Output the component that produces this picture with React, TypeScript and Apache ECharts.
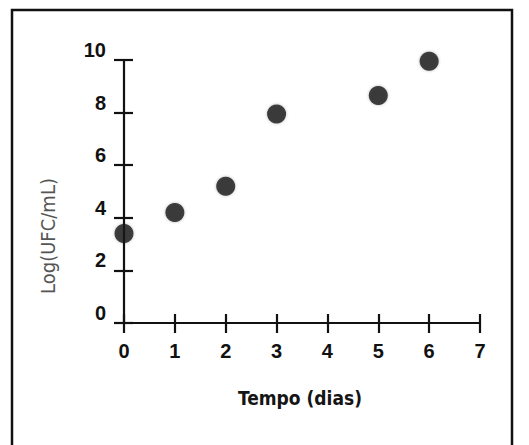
import React, { useEffect, useRef } from "react";
import * as echarts from "echarts";

const days = [0, 1, 2, 3, 5, 6];
const logUFC = [3.4, 4.2, 5.2, 7.95, 8.65, 9.95];
const xTicks = [0, 1, 2, 3, 4, 5, 6, 7];
const yTicks = [0, 2, 4, 6, 8, 10];
const xTitle = "Tempo (dias)";
const yTitle = "Log(UFC/mL)";

export default function App() {
  const ref = useRef<HTMLDivElement>(null);
  useEffect(() => {
    document.body.style.margin = "0";
    const chart = echarts.init(ref.current!, null, { renderer: "svg" });
    const labelFont = { fontFamily: "Liberation Sans, Arial, sans-serif", fontWeight: "bold" as const, fontSize: 20, color: "#111" };
    const baseX = {
      type: "value" as const,
      min: xTicks[0],
      max: xTicks[xTicks.length - 1],
      interval: 1,
      position: "bottom" as const,
      splitLine: { show: false },
    };
    const baseY = {
      type: "value" as const,
      min: yTicks[0],
      max: yTicks[yTicks.length - 1],
      interval: 2,
      position: "left" as const,
      splitLine: { show: false },
    };
    chart.setOption({
      animation: false,
      backgroundColor: "#fff",
      grid: { left: 124, right: 49, top: 60, bottom: 122, containLabel: false },
      xAxis: [
        {
          ...baseX,
          axisLine: { show: true, lineStyle: { color: "#111", width: 2.2 } },
          axisTick: { show: true, inside: false, length: 10, lineStyle: { color: "#111", width: 2.2 } },
          axisLabel: { ...labelFont, margin: 18 },
        },
        {
          ...baseX,
          axisLine: { show: false },
          axisTick: { show: true, inside: true, length: 9, lineStyle: { color: "#111", width: 2.2 } },
          axisLabel: { show: false },
        },
      ],
      yAxis: [
        {
          ...baseY,
          axisLine: { show: true, lineStyle: { color: "#111", width: 2.2 } },
          axisTick: { show: true, inside: false, length: 10, lineStyle: { color: "#111", width: 2.2 } },
          axisLabel: { ...labelFont, margin: 18, verticalAlign: "bottom" },
        },
        {
          ...baseY,
          axisLine: { show: false },
          axisTick: { show: true, inside: true, length: 9, lineStyle: { color: "#111", width: 2.2 } },
          axisLabel: { show: false },
        },
      ],
      series: [
        {
          type: "scatter",
          xAxisIndex: 0,
          yAxisIndex: 0,
          data: days.map((d, i) => [d, logUFC[i]]),
          symbol: "circle",
          symbolSize: 19,
          itemStyle: { color: "#151515", shadowBlur: 3, shadowColor: "rgba(0,0,0,0.35)" },
        },
      ],
      graphic: [
        {
          type: "rect",
          shape: { x: 12, y: 10, width: 500, height: 470 },
          style: { fill: "none", stroke: "#111", lineWidth: 2.5 },
          silent: true,
        },
        {
          type: "text",
          x: 300,
          y: 398,
          style: {
            text: xTitle,
            align: "center",
            verticalAlign: "middle",
            font: "bold 19px 'Liberation Sans Narrow', 'DejaVu Sans Condensed', Arial, sans-serif",
            fill: "#151515",
          },
        },
        {
          type: "text",
          x: 48,
          y: 236,
          rotation: Math.PI / 2,
          style: {
            text: yTitle,
            align: "center",
            verticalAlign: "middle",
            font: "20px 'Liberation Sans Narrow', 'DejaVu Sans Condensed', Arial, sans-serif",
            fill: "#555",
          },
        },
      ],
    });
    return () => chart.dispose();
  }, []);
  return <div ref={ref} style={{ width: 529, height: 445 }} />;
}
